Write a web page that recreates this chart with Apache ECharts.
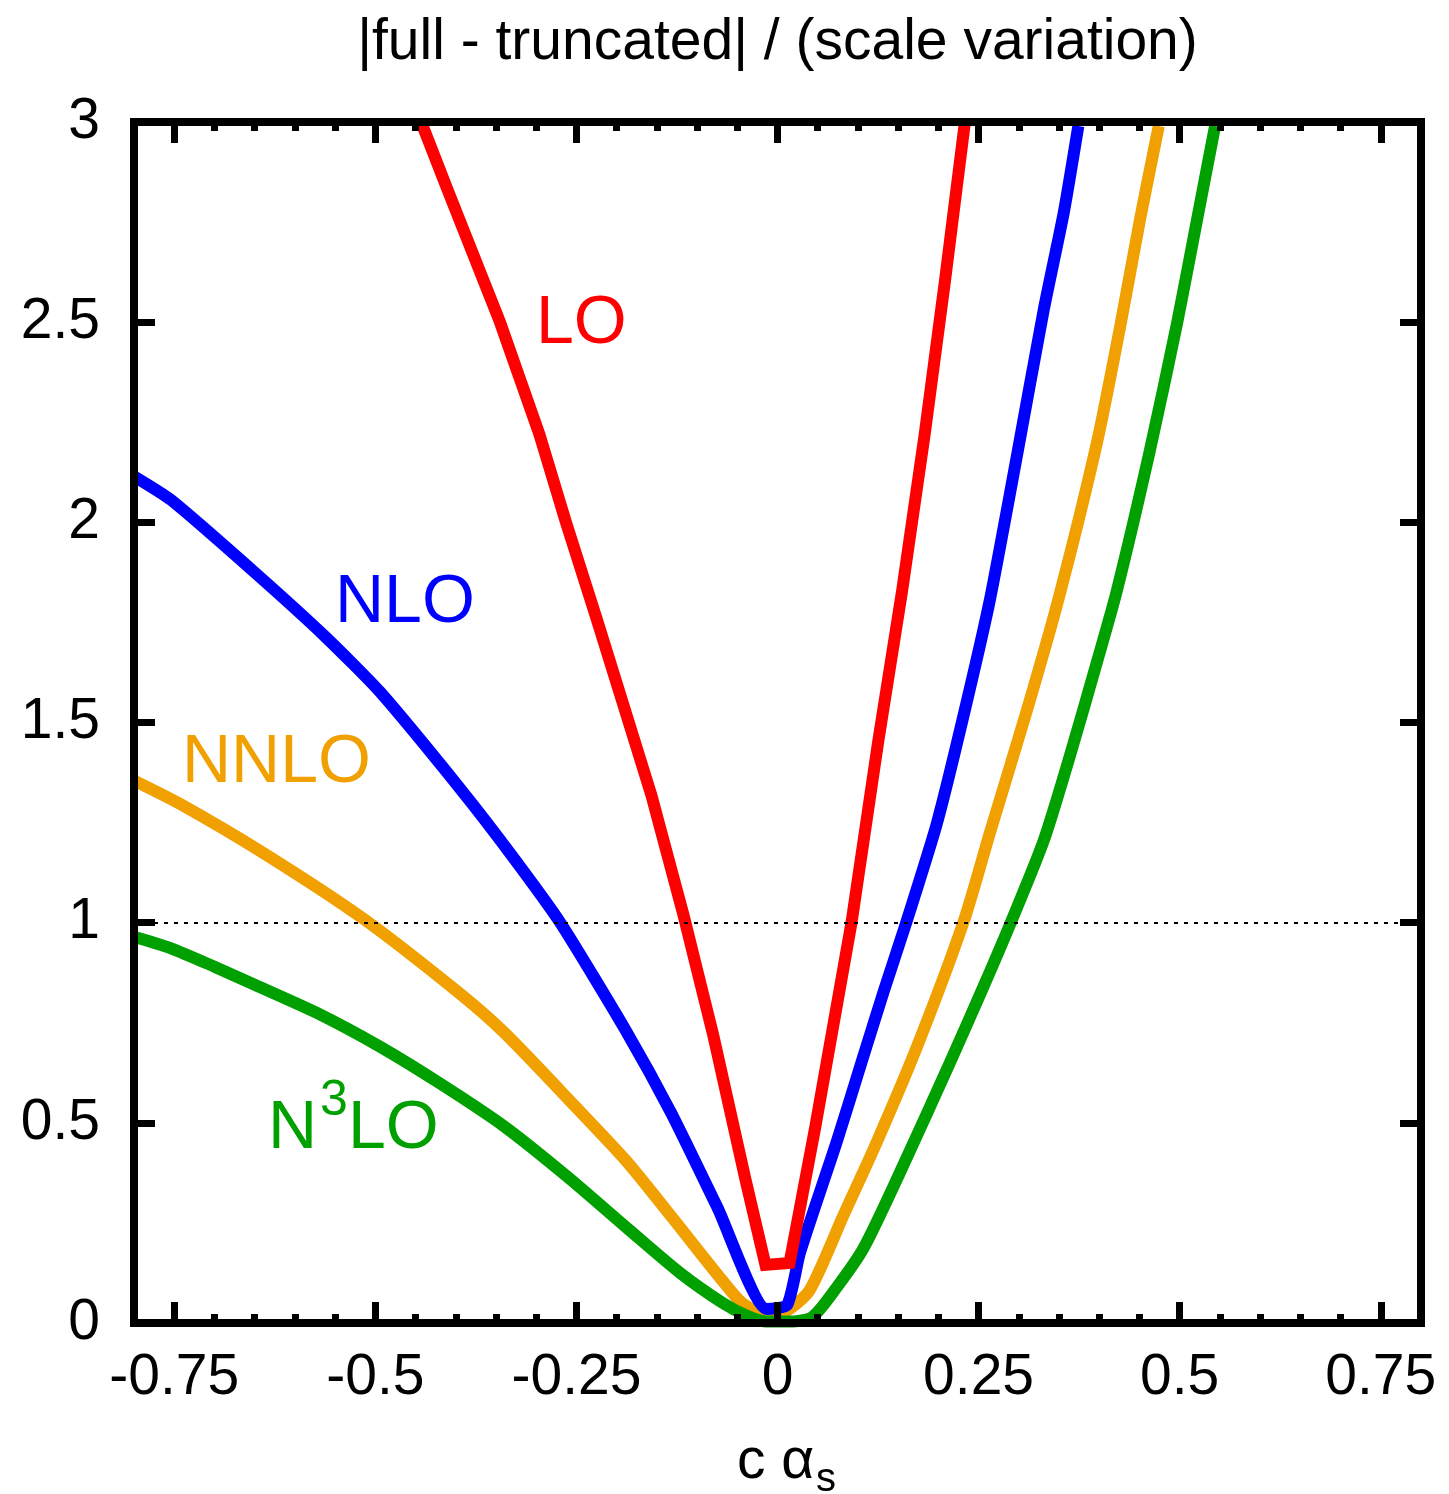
<!DOCTYPE html>
<html><head><meta charset="utf-8">
<script src="https://cdn.jsdelivr.net/npm/echarts@6/dist/echarts.min.js"></script>
<style>html,body{margin:0;padding:0;background:#fff}#c{width:1449px;height:1494px}</style>
</head><body><div id="c"></div>
<script>
// ---- data ----
const loX  = [-0.443,-0.410,-0.345,-0.296,-0.263,-0.225,-0.157,-0.117,-0.080,-0.040,-0.015,0.015,0.047,0.092,0.125,0.155,0.183,0.208,0.233];
const loY  = [3.00,2.83,2.50,2.22,2.00,1.76,1.32,1.02,0.72,0.36,0.145,0.150,0.49,1.00,1.45,1.83,2.22,2.60,3.00];

const nloX = [-0.800,-0.754,-0.650,-0.562,-0.494,-0.391,-0.330,-0.270,-0.189,-0.132,-0.075,-0.013,0.012,0.028,0.074,0.103,0.132,0.160,0.198,0.231,0.264,0.298,0.331,0.356,0.374];
const nloY = [2.115,2.056,1.875,1.714,1.576,1.326,1.167,1.00,0.732,0.524,0.290,0.035,0.045,0.176,0.455,0.642,0.828,1.00,1.247,1.515,1.806,2.170,2.531,2.775,2.990];

const nnloX = [-0.800,-0.743,-0.640,-0.515,-0.395,-0.339,-0.251,-0.189,-0.132,-0.069,-0.044,-0.012,0.011,0.040,0.082,0.123,0.173,0.231,0.264,0.310,0.349,0.397,0.426,0.451,0.474];
const nnloY = [1.355,1.297,1.175,1.010,0.823,0.724,0.540,0.407,0.266,0.107,0.050,0.020,0.030,0.082,0.269,0.450,0.688,1.000,1.224,1.530,1.806,2.198,2.489,2.760,2.990];

const n3loX = [-0.800,-0.754,-0.700,-0.650,-0.572,-0.494,-0.417,-0.339,-0.261,-0.184,-0.121,-0.068,-0.038,-0.015,0.020,0.044,0.074,0.107,0.152,0.215,0.256,0.290,0.331,0.364,0.397,0.422,0.463,0.497,0.521,0.544];
const n3loY = [0.965,0.936,0.890,0.845,0.774,0.690,0.595,0.490,0.365,0.232,0.125,0.050,0.018,0.004,0.004,0.016,0.090,0.187,0.375,0.653,0.840,1.000,1.205,1.420,1.650,1.830,2.180,2.500,2.750,2.990];

const xMajorTicks = [-0.75,-0.5,-0.25,0,0.25,0.5,0.75];
const xTickLabels = ['-0.75','-0.5','-0.25','0','0.25','0.5','0.75'];
const yTickLabels = ['0','0.5','1','1.5','2','2.5','3'];
const refLine = 1;

const zip = (xs, ys) => xs.map((x, i) => [x, ys[i]]);
const FONT = '"Liberation Sans", Arial, Helvetica, sans-serif';

const chart = echarts.init(document.getElementById('c'), null, {renderer: 'canvas'});

const frameLine = {show: true, onZero: false, lineStyle: {color: '#000', width: 8, cap: 'square'}};
function xAx(pos, major, withLabels) {
  const a = {
    type: 'value', position: pos, min: -0.8, max: 0.8, z: 10,
    axisLine: major ? frameLine : {show: false, onZero: false},
    splitLine: {show: false},
    axisTick: {show: true, inside: true, length: major ? 21 : 9, lineStyle: {color: '#000', width: 7}},
    axisLabel: {show: false}
  };
  if (major) {
    a.axisTick.customValues = xMajorTicks;
    if (withLabels) {
      a.axisLabel = {show: true, customValues: xMajorTicks, margin: 27, color: '#000', fontSize: 57, fontFamily: FONT,
        formatter: v => xTickLabels[xMajorTicks.findIndex(t => Math.abs(t - v) < 1e-9)]};
    }
  } else {
    a.interval = 0.05;
  }
  return a;
}
function yAx(pos, withLabels) {
  return {
    type: 'value', position: pos, min: 0, max: 3, interval: 0.5, z: 10,
    axisLine: frameLine, splitLine: {show: false},
    axisTick: {show: true, inside: true, length: 21, lineStyle: {color: '#000', width: 7}},
    axisLabel: withLabels ? {show: true, margin: 34, color: '#000', fontSize: 57, fontFamily: FONT,
      formatter: v => yTickLabels[Math.round(v / 0.5)]} : {show: false}
  };
}

function curve(name, xs, ys, color, smooth) {
  return {type: 'line', name, data: zip(xs, ys), showSymbol: false, symbol: 'none', smooth: smooth,
    clip: true, lineStyle: {color, width: 12, join: 'miter'}, z: 3, silent: true};
}

const option = {
  animation: false,
  backgroundColor: '#fff',
  grid: {left: 134, right: 28, top: 122, bottom: 171, containLabel: false, outerBoundsMode: 'none'},
  xAxis: [xAx('bottom', true, true), xAx('bottom', false), xAx('top', true, false), xAx('top', false)],
  yAxis: [yAx('left', true), yAx('right', false)],
  series: [
    {type: 'line', data: [], silent: true, z: 2,
     markLine: {silent: true, symbol: 'none', label: {show: false},
       lineStyle: {color: '#000', width: 2, type: [4, 6]}, data: [{yAxis: refLine}]}},
    curve('NNLO', nnloX, nnloY, '#f0a000', 0.25),
    curve('N3LO', n3loX, n3loY, '#00a000', 0.25),
    curve('NLO', nloX, nloY, '#0000ff', 0.2),
    curve('LO', loX, loY, '#ff0000', false)
  ],
  graphic: [
    {type: 'text', x: 777.5, y: 43, z: 20, style: {text: '|full - truncated| / (scale variation)', fill: '#000',
      font: '57px ' + FONT, textAlign: 'center', textVerticalAlign: 'middle'}},
    {type: 'text', x: 536, y: 324, z: 20, style: {text: 'LO', fill: '#ff0000', font: '68px ' + FONT, textAlign: 'left', textVerticalAlign: 'middle'}},
    {type: 'text', x: 335, y: 603, z: 20, style: {text: 'NLO', fill: '#0000ff', font: '68px ' + FONT, textAlign: 'left', textVerticalAlign: 'middle'}},
    {type: 'text', x: 182, y: 763, z: 20, style: {text: 'NNLO', fill: '#f0a000', font: '68px ' + FONT, textAlign: 'left', textVerticalAlign: 'middle'}},
    {type: 'text', x: 268, y: 1129, z: 20, style: {text: 'N', fill: '#00a000', font: '68px ' + FONT, textAlign: 'left', textVerticalAlign: 'middle'}},
    {type: 'text', x: 320, y: 1101, z: 20, style: {text: '3', fill: '#00a000', font: '50px ' + FONT, textAlign: 'left', textVerticalAlign: 'middle'}},
    {type: 'text', x: 348, y: 1129, z: 20, style: {text: 'LO', fill: '#00a000', font: '68px ' + FONT, textAlign: 'left', textVerticalAlign: 'middle'}},
    {type: 'text', x: 737, y: 1462, z: 20, style: {text: 'c \u03b1', fill: '#000', font: '57px ' + FONT, textAlign: 'left', textVerticalAlign: 'middle'}},
    {type: 'text', x: 816, y: 1480, z: 20, style: {text: 's', fill: '#000', font: '40px ' + FONT, textAlign: 'left', textVerticalAlign: 'middle'}}
  ]
};
chart.setOption(option);
</script>
</body></html>
